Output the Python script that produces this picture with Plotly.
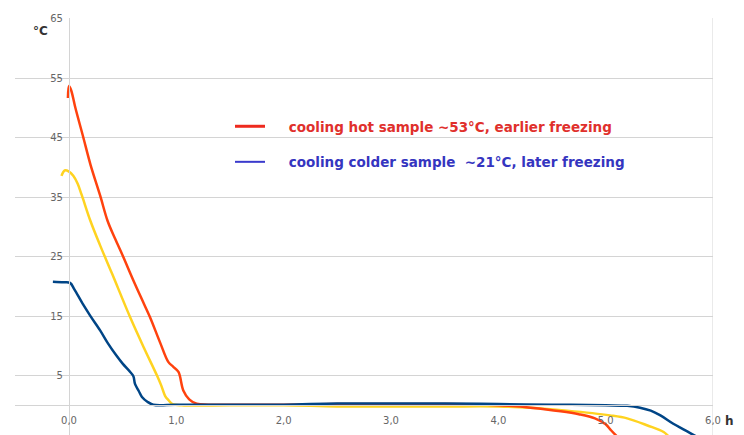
import plotly.graph_objects as go

# ---- data (hours, °C) ----
hot_x = [-0.01, 0.0, 0.02, 0.06, 0.13, 0.20, 0.29, 0.36, 0.43, 0.5, 0.6, 0.7, 0.755, 0.85, 0.925, 0.97,
         1.02, 1.065, 1.12, 1.19, 1.3, 1.6, 2.0, 2.5, 3.0, 3.5, 3.9, 4.1, 4.3, 4.58, 4.75, 4.9, 5.0, 5.05, 5.12]
hot_y = [51.7, 53.7, 53.0, 50.0, 45.3, 40.5, 35.3, 31.0, 28.0, 25.2, 21.0, 17.0, 14.8, 10.5, 7.3, 6.5,
         5.6, 2.5, 1.0, 0.25, 0.1, 0.1, 0.1, 0.2, 0.2, 0.2, 0.1, -0.1, -0.4, -1.0, -1.5, -2.2, -3.2, -4.2, -5.5]

mid_x = [-0.07, -0.04, 0.0, 0.04, 0.08, 0.12, 0.2, 0.29, 0.4, 0.57, 0.7, 0.82, 0.86, 0.895, 0.93, 0.96,
         1.05, 1.5, 2.0, 2.5, 3.0, 3.5, 4.0, 4.3, 4.64, 5.04, 5.2, 5.39, 5.54, 5.6]
mid_y = [38.6, 39.5, 39.3, 38.6, 37.3, 35.3, 31.0, 26.9, 22.2, 14.8, 9.6, 5.0, 3.3, 1.6, 0.8, 0.25,
         0.0, 0.0, 0.0, -0.2, -0.2, -0.2, -0.2, -0.4, -0.9, -1.7, -2.2, -3.4, -4.5, -5.5]

cold_x = [-0.15, -0.05, 0.01, 0.05, 0.13, 0.2, 0.29, 0.36, 0.44, 0.5, 0.57, 0.6, 0.615, 0.65, 0.68, 0.73,
          0.785, 1.0, 1.5, 2.0, 2.5, 3.0, 3.5, 4.0, 4.5, 5.0, 5.2, 5.32, 5.42, 5.51, 5.63, 5.72, 5.8, 5.9]
cold_y = [20.8, 20.7, 20.6, 19.5, 17.0, 15.0, 12.6, 10.5, 8.4, 7.0, 5.6, 4.9, 3.6, 2.4, 1.4, 0.6,
          0.1, 0.1, 0.1, 0.1, 0.3, 0.3, 0.3, 0.2, 0.1, 0.0, -0.1, -0.4, -0.9, -1.7, -3.1, -4.0, -4.8, -5.8]

x_ticks = [0, 1, 2, 3, 4, 5, 6]
x_ticktext = ["0,0", "1,0", "2,0", "3,0", "4,0", "5,0", "6,0"]
y_ticks = [-5, 5, 15, 25, 35, 45, 55, 65]

legend_hot = "cooling hot sample ~53°C, earlier freezing"
legend_cold = "cooling colder sample  ~21°C, later freezing"

X_RANGE = [-0.503, 6.0]
Y_RANGE = [-5, 65.15]

W, H = 744, 435
ML, MR, MT, MB = 15, 31, 18, 0
PW, PH = W - ML - MR, H - MT - MB

def px_x(p):
    return (p - ML) / PW

def px_y(p):
    return (H - MB - p) / PH

fig = go.Figure()
fig.add_trace(go.Scatter(x=mid_x, y=mid_y, mode="lines", line=dict(color="#ffd320", width=2.5),
                         showlegend=False, line_shape="spline"))
fig.add_trace(go.Scatter(x=hot_x, y=hot_y, mode="lines", line=dict(color="#ff420e", width=2.5),
                         showlegend=False, line_shape="spline"))
fig.add_trace(go.Scatter(x=cold_x, y=cold_y, mode="lines", line=dict(color="#004586", width=2.5),
                         showlegend=False, line_shape="spline"))

# legend-only entries
pad = "\u00a0\u00a0\u00a0\u00a0"
fig.add_trace(go.Scatter(x=[None], y=[None], mode="lines", line=dict(color="#ee2a1e", width=3),
                         name=pad + "<span style='color:#e0302c'>" + legend_hot + "</span>", legendgroup="a"))
fig.add_trace(go.Scatter(x=[None], y=[None], mode="lines", line=dict(color="#3a3acc", width=2),
                         name=pad + "<span style='color:#3535c0'>" + legend_cold.replace("  ", "\u00a0 ") + "</span>",
                         legendgroup="b"))

gray = "#d4d4d4"
xpos = (0 - Y_RANGE[0]) / (Y_RANGE[1] - Y_RANGE[0])
ypos = (0 - X_RANGE[0]) / (X_RANGE[1] - X_RANGE[0])

fig.update_layout(
    width=W, height=H,
    margin=dict(l=ML, r=MR, t=MT, b=MB, autoexpand=False),
    plot_bgcolor="white", paper_bgcolor="white",
    font=dict(family="DejaVu Sans", color="#666666", size=10),
    xaxis=dict(range=X_RANGE, tickvals=x_ticks, ticktext=x_ticktext, showgrid=False, zeroline=False,
               showline=True, linecolor=gray, linewidth=1, anchor="free", position=xpos,
               ticks="", ticklabelstandoff=6, automargin=False,
               tickfont=dict(size=10, color="#666666")),
    yaxis=dict(range=Y_RANGE, tickvals=y_ticks, showgrid=True, gridcolor=gray, gridwidth=1, zeroline=False,
               showline=True, linecolor=gray, linewidth=1, anchor="free", position=ypos,
               ticks="", ticklabelstandoff=4, automargin=False,
               tickfont=dict(size=10, color="#666666")),
    legend=dict(x=px_x(230), y=px_y(111), xanchor="left", yanchor="top", bgcolor="rgba(0,0,0,0)",
                font=dict(family="DejaVu Sans", size=13.5, weight="bold"), tracegroupgap=15,
                traceorder="grouped"),
    shapes=[dict(type="line", xref="x", yref="paper", x0=6, x1=6, y0=0, y1=1,
                 line=dict(color=gray, width=1), layer="below")],
    annotations=[
        dict(text="<b>°C</b>", xref="paper", yref="paper", x=px_x(40), y=px_y(31),
             xanchor="center", yanchor="middle",
             showarrow=False, font=dict(size=12, color="#333333")),
        dict(text="<b>h</b>", xref="paper", yref="paper", x=px_x(729), y=px_y(421),
             xanchor="center", yanchor="middle",
             showarrow=False, font=dict(size=12, color="#333333")),
    ],
)

fig.write_html("out.html", config={"displayModeBar": False},
               post_script="document.body.style.margin='0';document.body.style.overflow='hidden';")
